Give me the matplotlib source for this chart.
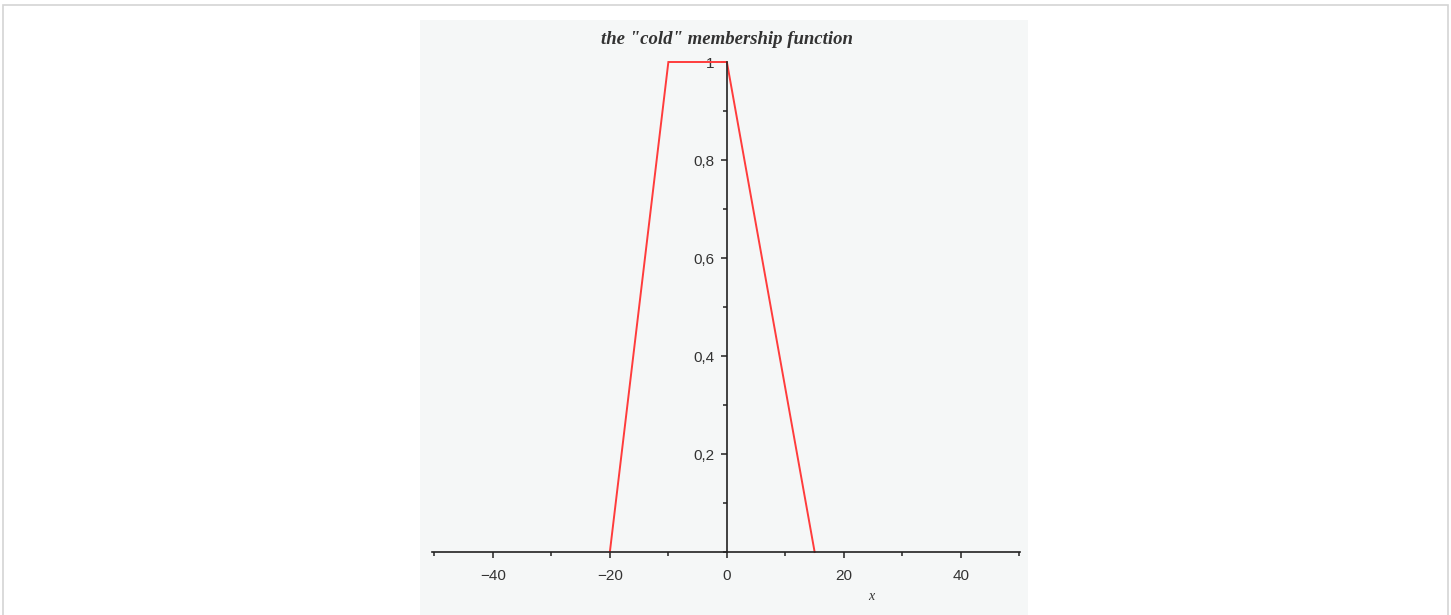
import matplotlib.pyplot as plt
from matplotlib.patches import Rectangle
from matplotlib.ticker import FuncFormatter, MultipleLocator

# "cold" membership: breakpoints of the trapezoid
xs = [-20, -10, 0, 15]
mu = [0, 1, 1, 0]

x_ticks = [-40, -20, 0, 20, 40]
y_ticks = [0.2, 0.4, 0.6, 0.8, 1.0]

W, H = 1451, 615
fig = plt.figure(figsize=(W / 100, H / 100), dpi=100)
fig.patch.set_facecolor('white')

# outer frame and the grey plot panel (behind the axes)
fig.patches.append(Rectangle((3 / W, -0.1), (1448 - 3) / W, (H - 5) / H + 0.1,
                             transform=fig.transFigure, fill=False,
                             edgecolor='#d4d4d4', lw=1.2, zorder=-2))
fig.patches.append(Rectangle((420 / W, 0), (1028 - 420) / W, (H - 20) / H,
                             transform=fig.transFigure, facecolor='#f5f7f7',
                             edgecolor='none', zorder=-1))

# axes placed so that data (x, 0..1) lands on the panel
left, right = 432, 1020
bottom, top = H - 552, H - 62
ax = fig.add_axes([left / W, bottom / H, (right - left) / W, (top - bottom) / H])
ax.set_facecolor('none')
ax.set_xlim(-50.4, 50.1)
ax.set_ylim(0, 1.0)

ax.plot(xs, mu, color='#ff3c3c', lw=1.4, solid_joinstyle='miter', clip_on=False)

for s in ['top', 'right']:
    ax.spines[s].set_visible(False)
ax.spines['left'].set_position(('data', 0))
ax.spines['bottom'].set_position(('data', 0))
for s in ['left', 'bottom']:
    ax.spines[s].set_color('#222222')
    ax.spines[s].set_linewidth(1.2)

ax.set_xticks(x_ticks)
ax.set_yticks(y_ticks)
ax.xaxis.set_minor_locator(MultipleLocator(10))
ax.yaxis.set_minor_locator(MultipleLocator(0.1))

comma = FuncFormatter(lambda v, p: '1' if abs(v - 1) < 1e-9 else f'{v:.1f}'.replace('.', ','))
ax.yaxis.set_major_formatter(comma)
ax.xaxis.set_major_formatter(FuncFormatter(lambda v, p: f'{int(v)}'.replace('-', '\u2212')))

ax.tick_params(axis='both', which='major', direction='out', length=4, width=1.1,
               color='#222222', labelcolor='#333333', labelsize=11)
ax.tick_params(axis='both', which='minor', direction='out', length=3, width=1.1,
               color='#222222')
ax.tick_params(axis='x', pad=8)
ax.tick_params(axis='y', pad=5)
for lab in ax.get_xticklabels() + ax.get_yticklabels():
    lab.set_family('Liberation Sans')

fig.text(727 / W, 1 - 40 / H, 'the "cold" membership function', ha='center', va='center',
         fontsize=13.5, fontstyle='italic', fontweight='bold', family='Liberation Serif',
         color='#333333')
fig.text(871 / W, 1 - 597 / H, 'x', ha='center', va='center',
         fontsize=10, fontstyle='italic', family='Liberation Serif', color='#333333')

fig.savefig('out.png', dpi=100, facecolor=fig.get_facecolor())
